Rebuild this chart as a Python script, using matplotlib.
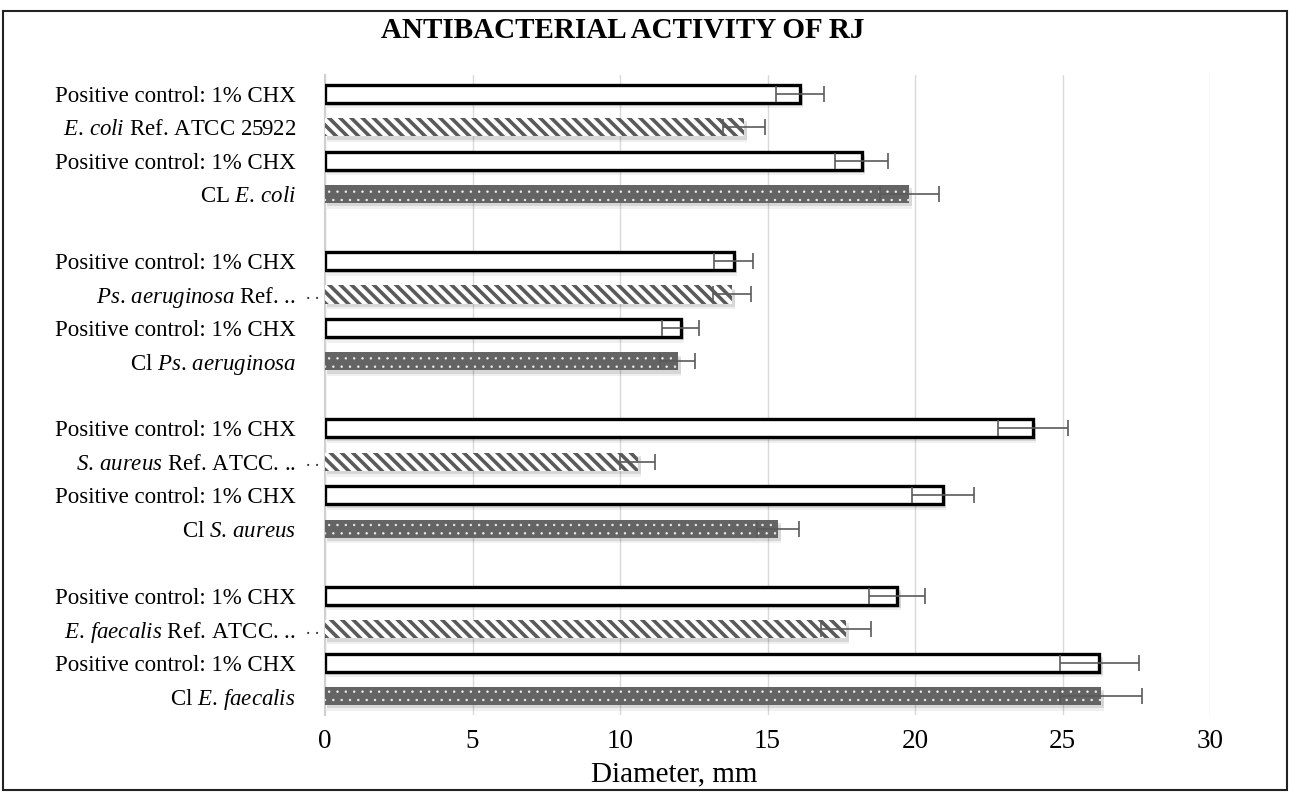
import numpy as np
import matplotlib.pyplot as plt
from matplotlib.patches import Rectangle

# Fuentes
plt.rcParams['font.family'] = ['Liberation Serif', 'DejaVu Serif']
plt.rcParams['mathtext.fontset'] = 'custom'
plt.rcParams['mathtext.rm'] = 'Liberation Serif'
plt.rcParams['mathtext.it'] = 'Liberation Serif:italic'

# Datos (de arriba hacia abajo)
etiquetas = [
    'Positive control: 1% CHX', r'$\mathit{E.\,coli}$ Ref. ATCC 25922',
    'Positive control: 1% CHX', r'CL $\mathit{E.\,coli}$',
    'Positive control: 1% CHX', r'$\mathit{Ps.\,aeruginosa}$ Ref. ..',
    'Positive control: 1% CHX', r'Cl $\mathit{Ps.\,aeruginosa}$',
    'Positive control: 1% CHX', r'$\mathit{S.\,aureus}$ Ref. ATCC. ..',
    'Positive control: 1% CHX', r'Cl $\mathit{S.\,aureus}$',
    'Positive control: 1% CHX', r'$\mathit{E.\,faecalis}$ Ref. ATCC. ..',
    'Positive control: 1% CHX', r'Cl $\mathit{E.\,faecalis}$',
]
tipos = ['pc', 'ref', 'pc', 'cl'] * 4
valores = [16.1, 14.2, 18.2, 19.8,
           13.85, 13.8, 12.05, 11.95,
           24.0, 10.6, 20.95, 15.35,
           19.4, 17.65, 26.25, 26.3]
errores = [0.8, 0.7, 0.9, 1.0,
           0.65, 0.65, 0.62, 0.6,
           1.2, 0.6, 1.05, 0.7,
           0.95, 0.85, 1.35, 1.4]
truncadas = [5, 9, 13]  # etiquetas con puntos extra

# Posiciones: 4 grupos de 4 barras con una categoría vacía entre grupos
pos = np.array([g * 5 + i for g in range(4) for i in range(4)])
valores = np.array(valores)
errores = np.array(errores)
tipos = np.array(tipos)

fig = plt.figure(figsize=(12.9, 7.92), dpi=100)
ax = fig.add_axes([0.252, 0.097, 0.686, 0.808])

h = 0.54

# Sombra de las barras
for dy, a in [(0.10, 0.10), (0.17, 0.06)]:
    ax.barh(pos + dy, valores + 0.06, height=h, left=0.05, color='black',
            alpha=a, linewidth=0, zorder=1)

# Control positivo: blanco con borde negro
m = tipos == 'pc'
ax.barh(pos[m], valores[m], height=h, color='white', edgecolor='black',
        linewidth=2.4, zorder=3)

# Cepas de referencia: rayado diagonal
m = tipos == 'ref'
with plt.rc_context({'hatch.linewidth': 2.6}):
    barras = ax.barh(pos[m], valores[m], height=h, color='white',
                     edgecolor='#5a5a5a', hatch='\\\\\\', linewidth=0, zorder=3)
    for b in barras:
        if hasattr(b, 'set_hatch_linewidth'):
            b.set_hatch_linewidth(2.6)

# Aislados clínicos: gris oscuro con puntos blancos
m = tipos == 'cl'
with plt.rc_context({'hatch.linewidth': 0.5}):
    barras = ax.barh(pos[m], valores[m], height=h, color='#646464',
                     edgecolor='#f0f0f0', hatch='..', linewidth=0, zorder=3)
    for b in barras:
        if hasattr(b, 'set_hatch_linewidth'):
            b.set_hatch_linewidth(0.5)

# Barras de error
ax.errorbar(valores, pos, xerr=errores, fmt='none', ecolor='#5a5a5a',
            elinewidth=1.2, capsize=5.5, capthick=1.2, zorder=5)

ax.set_xlim(0, 30)
ax.set_ylim(18.57, -0.55)
ax.set_xticks(np.arange(0, 31, 5))
ax.set_yticks(pos)
ax.set_yticklabels(etiquetas, fontsize=16.5)
ax.tick_params(axis='y', length=0, pad=21)
ax.tick_params(axis='x', length=0, pad=10, labelsize=19.5)
ax.xaxis.grid(True, color='#d9d9d9', linewidth=1, zorder=0)
ax.set_axisbelow(True)
for s in ['top', 'right', 'bottom']:
    ax.spines[s].set_visible(False)
ax.spines['left'].set_color('#d0d0d0')
ax.spines['left'].set_linewidth(1.5)

# Puntos sobrantes de las etiquetas truncadas
for k in truncadas:
    ax.annotate('. .', xy=(0, pos[k]), xytext=(-9, 0), textcoords='offset points',
                ha='center', va='center', fontsize=13, color='#333333')

fig.text(0.483, 0.962, 'ANTIBACTERIAL ACTIVITY OF RJ', ha='center', va='center',
         fontsize=21, fontweight='bold')
fig.text(0.523, 0.022, 'Diameter, mm', ha='center', va='center', fontsize=21)

# Marco de la figura
fig.add_artist(Rectangle((0.002, 0.002), 0.996, 0.984, transform=fig.transFigure,
                         fill=False, edgecolor='#222222', linewidth=1.5))

fig.savefig('out.png', dpi=100)
